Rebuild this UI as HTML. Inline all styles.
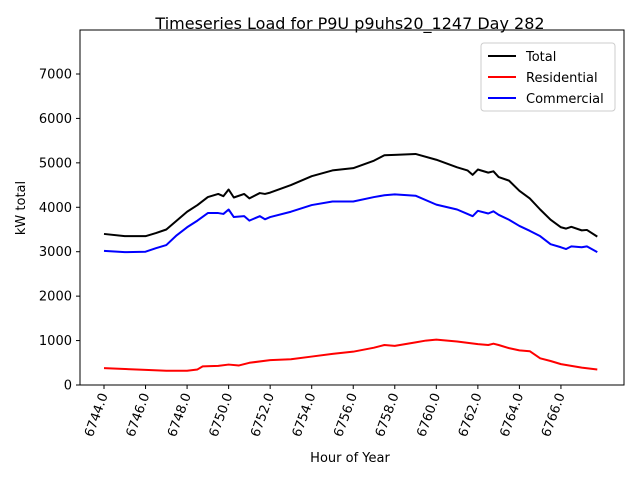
<!DOCTYPE html>
<html><head><meta charset="utf-8"><style>
body{margin:0;background:#fff;}
svg text{font-family:"DejaVu Sans","Liberation Sans",sans-serif;fill:#000;}
</style></head><body>
<svg id="chart" width="640" height="480" viewBox="0 0 640 480" xmlns="http://www.w3.org/2000/svg">
<rect width="640" height="480" fill="#fff"/>
<text x="350" y="29" font-size="16" text-anchor="middle">Timeseries Load for P9U p9uhs20_1247  Day 282</text>
<g id="grid"></g>
<rect x="80" y="30" width="544" height="355" fill="none" stroke="#000" stroke-width="1"/>
<text x="350" y="462" font-size="13" text-anchor="middle">Hour of Year</text>
<text x="25" y="208" font-size="13" text-anchor="middle" transform="rotate(-90 25 208)">kW total</text>
<g id="legend">
<rect x="481" y="43" width="134" height="68" fill="#fff" stroke="#ccc" rx="3"/>
<line x1="488" y1="56" x2="516" y2="56" stroke="#000" stroke-width="2"/>
<text x="526" y="61" font-size="13">Total</text>
<line x1="488" y1="77" x2="516" y2="77" stroke="#f00" stroke-width="2"/>
<text x="526" y="82" font-size="13">Residential</text>
<line x1="488" y1="98" x2="516" y2="98" stroke="#00f" stroke-width="2"/>
<text x="526" y="103" font-size="13">Commercial</text>
</g>
</svg>
<script>
const yTicks=[0,1000,2000,3000,4000,5000,6000,7000];
const xTicks=[6744,6746,6748,6750,6752,6754,6756,6758,6760,6762,6764,6766];
const totalHours=[6744,6745,6746,6746.5,6747,6747.5,6748,6748.5,6749,6749.5,6749.75,6750,6750.25,6750.75,6751,6751.5,6751.75,6752,6753,6754,6755,6756,6757,6757.5,6758,6759,6760,6761,6761.5,6761.75,6762,6762.5,6762.75,6763,6763.5,6764,6764.5,6765,6765.5,6766,6766.25,6766.5,6767,6767.25,6767.75];
const totalValues=[3400,3350,3350,3420,3500,3700,3900,4050,4230,4300,4250,4400,4220,4300,4200,4320,4300,4330,4500,4700,4830,4880,5050,5170,5180,5200,5070,4900,4830,4730,4850,4780,4810,4680,4600,4370,4200,3950,3720,3550,3520,3560,3480,3490,3340];
const comHours=totalHours;
const comValues=[3020,2990,3000,3080,3150,3370,3550,3700,3870,3870,3850,3950,3780,3800,3700,3800,3730,3780,3900,4050,4130,4130,4230,4270,4290,4260,4060,3950,3850,3800,3920,3860,3910,3830,3720,3580,3470,3350,3170,3100,3060,3120,3100,3120,2990];
const resHours=[6744,6746,6747,6748,6748.5,6748.75,6749.5,6750,6750.5,6751,6752,6753,6754,6755,6756,6757,6757.5,6758,6759,6759.5,6760,6761,6762,6762.5,6762.75,6763,6763.5,6764,6764.5,6765,6765.5,6766,6766.5,6767,6767.75];
const resValues=[380,340,320,320,350,420,430,460,440,500,560,580,640,700,750,840,900,880,960,1000,1020,980,920,900,930,900,830,780,760,600,540,470,430,390,350];
const NS="http://www.w3.org/2000/svg";
const svg=document.getElementById('chart');
const grid=document.getElementById('grid');
function xs(h){return 104+(h-6744)*20.77;}
function ys(v){return 385-v*0.04443;}
function mk(t,a){const e=document.createElementNS(NS,t);for(const k in a)e.setAttribute(k,a[k]);return e;}
yTicks.forEach(v=>{
  const l=mk('line',{x1:76,x2:80,y1:ys(v),y2:ys(v),stroke:'#000'});
  
  
  grid.appendChild(l);
  const t=mk('text',{x:72,y:ys(v)+4.5,'font-size':13,'text-anchor':'end'});
  
  
  t.textContent=v;grid.appendChild(t);
});
xTicks.forEach(h=>{
  const x=xs(h);
  const l=mk('line',{x1:x,x2:x,y1:385,y2:389,stroke:'#000'});
  
  
  grid.appendChild(l);
  const t=mk('text',{x:x+4,y:395,'font-size':13,'text-anchor':'end',transform:`rotate(-70 ${x+4} 395)`});
  
  
  t.textContent=h.toFixed(1);grid.appendChild(t);
});
function line(hs,vs,color,name){
  const p=mk('polyline',{points:hs.map((h,i)=>xs(h)+','+ys(vs[i])).join(' '),fill:'none',stroke:color,'stroke-width':2,'stroke-linejoin':'round'});
  
  
  svg.insertBefore(p,document.getElementById('legend'));
}
line(totalHours,totalValues,'#000','total-line');
line(resHours,resValues,'#f00','residential-line');
line(comHours,comValues,'#00f','commercial-line');
</script>
</body></html>
